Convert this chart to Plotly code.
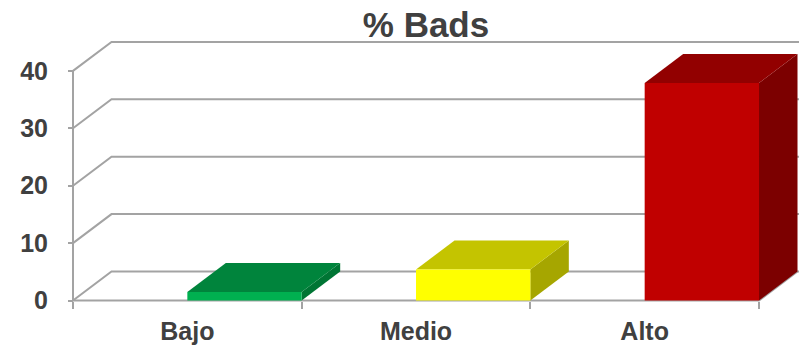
import plotly.graph_objects as go

# ---- data ----
categories = ["Bajo", "Medio", "Alto"]
values = [1.5, 5.4, 37.9]
y_ticks = [0, 10, 20, 30, 40]
title_text = "% Bads"

# ---- styles ----
front_colors = ["#00B050", "#FFFF00", "#C00000"]
top_colors = ["#00843C", "#C4C400", "#920000"]
side_colors = ["#007534", "#A6A600", "#7C0000"]
grid_color = "#A3A3A3"
text_color = "#404040"
FONT = "Liberation Sans, Arial, sans-serif"

W, H = 799, 346
# pixel geometry of the 3D box
PX_X0, PX_PER_CAT = 73.0, 228.67
PX_Y0, PX_PER_UNIT = 300.5, 5.74
DEPTH_PX = (38.5, 29.0)
dx = DEPTH_PX[0] / PX_PER_CAT
dy = DEPTH_PX[1] / PX_PER_UNIT
bar_left_frac, bar_right_frac = 0.5, 1.0

dom_left_px, dom_right_px = 66.0, 799.0
dom_top_px, dom_bot_px = 36.0, 306.0
x_range = [(dom_left_px - PX_X0) / PX_PER_CAT, (dom_right_px - PX_X0) / PX_PER_CAT]
y_range = [(PX_Y0 - dom_bot_px) / PX_PER_UNIT, (PX_Y0 - dom_top_px) / PX_PER_UNIT]

n = len(categories)
xmax = x_range[1] + 0.05

fig = go.Figure()

# gridlines: front diagonal + back wall line
gx, gy = [], []
for v in y_ticks:
    gx += [0, dx, xmax, None]
    gy += [v, v + dy, v + dy, None]
# floor front edge and right diagonal
gx += [0, n, n + dx, None]
gy += [0, 0, dy, None]
# front vertical axis
gx += [0, 0]
gy += [0, y_ticks[-1]]
fig.add_trace(go.Scatter(x=gx, y=gy, mode="lines",
                         line=dict(color=grid_color, width=2),
                         hoverinfo="skip", showlegend=False))

# 3D bars
for i, (cat, v) in enumerate(zip(categories, values)):
    x0 = i + bar_left_frac
    x1 = i + bar_right_frac
    # side face
    fig.add_trace(go.Scatter(x=[x1, x1 + dx, x1 + dx, x1, x1],
                             y=[0, dy, v + dy, v, 0],
                             fill="toself", fillcolor=side_colors[i], mode="lines",
                             line=dict(width=0, color=side_colors[i]),
                             hoverinfo="skip", showlegend=False))
    # top face
    fig.add_trace(go.Scatter(x=[x0, x1, x1 + dx, x0 + dx, x0],
                             y=[v, v, v + dy, v + dy, v],
                             fill="toself", fillcolor=top_colors[i], mode="lines",
                             line=dict(width=0, color=top_colors[i]),
                             hoverinfo="skip", showlegend=False))
    # front face
    fig.add_trace(go.Scatter(x=[x0, x1, x1, x0, x0],
                             y=[0, 0, v, v, 0],
                             fill="toself", fillcolor=front_colors[i], mode="lines",
                             line=dict(width=0, color=front_colors[i]),
                             hoverinfo="skip", showlegend=False, name=cat))

fig.update_layout(
    width=W, height=H,
    margin=dict(l=0, r=0, t=0, b=0),
    paper_bgcolor="white", plot_bgcolor="rgba(0,0,0,0)",
    showlegend=False,
    title=dict(text=title_text, x=426 / W, xref="paper", xanchor="center",
               y=1 - 25 / H, yref="paper", yanchor="middle",
               font=dict(family=FONT, size=35, color=text_color, weight="bold")),
    xaxis=dict(
        domain=[dom_left_px / W, dom_right_px / W],
        range=x_range, anchor="free", position=1 - PX_Y0 / H,
        showgrid=False, zeroline=False, showline=False,
        tickvals=[i + 0.5 for i in range(n)], ticktext=categories,
        ticks="", ticklabelstandoff=13,
        minor=dict(tickvals=list(range(n + 1)), ticks="outside", ticklen=7,
                   tickwidth=2, tickcolor=grid_color, showgrid=False),
        tickfont=dict(family=FONT, size=25, color=text_color, weight="bold"),
        automargin=False, fixedrange=True,
    ),
    yaxis=dict(
        domain=[1 - dom_bot_px / H, 1 - dom_top_px / H],
        range=y_range, anchor="free", position=PX_X0 / W,
        showgrid=False, zeroline=False, showline=False,
        tickvals=y_ticks, ticks="outside", ticklen=5, tickwidth=2,
        tickcolor=grid_color, ticklabelstandoff=15,
        tickfont=dict(family=FONT, size=25, color=text_color, weight="bold"),
        automargin=False, fixedrange=True,
    ),
)

fig.write_html("out.html")
